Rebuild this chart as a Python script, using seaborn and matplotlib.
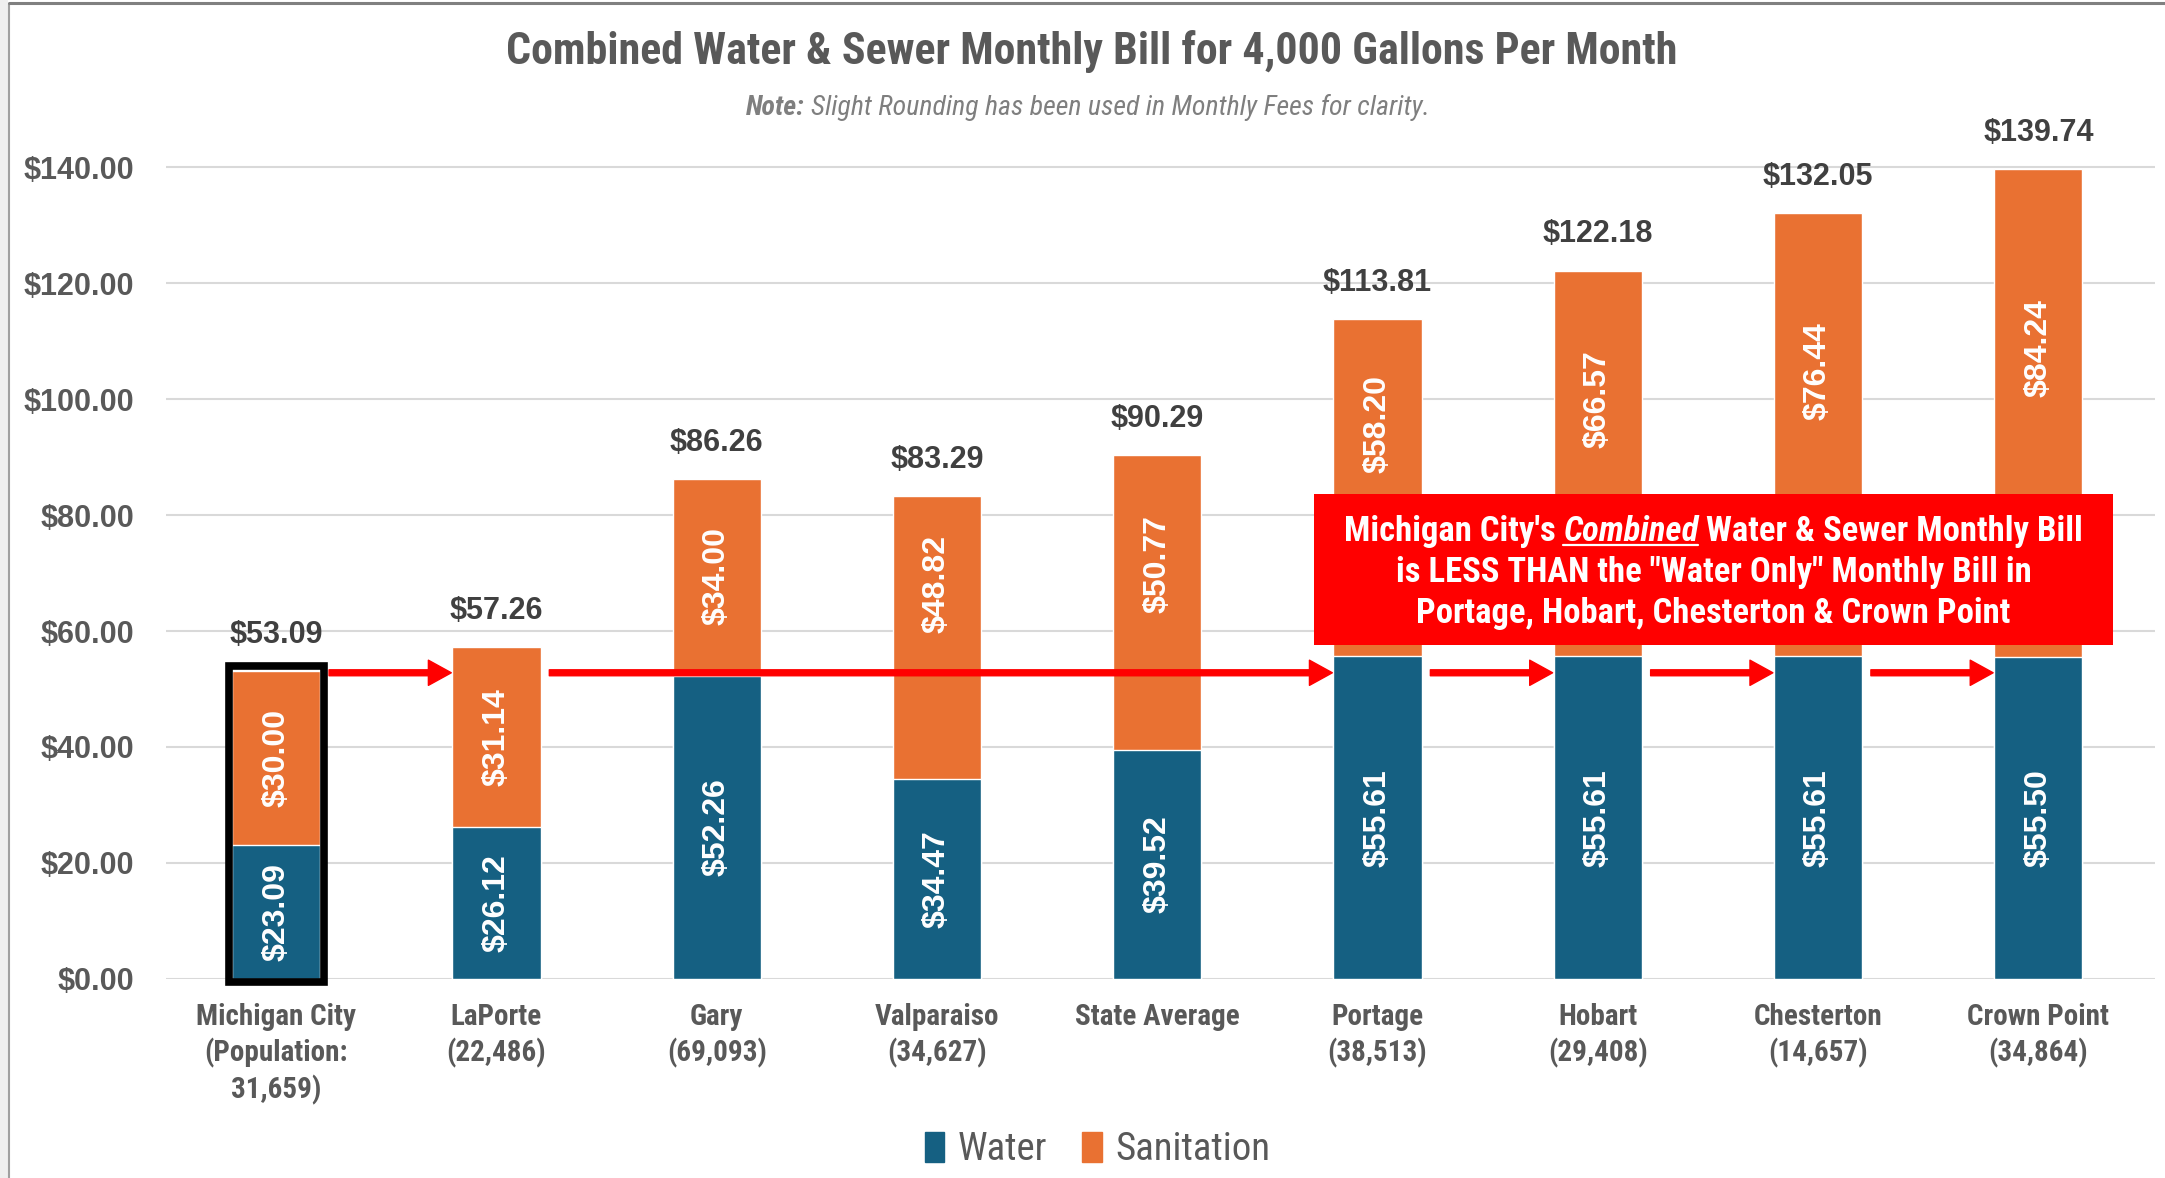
import pandas as pd
import matplotlib
matplotlib.use("Agg")
import matplotlib.pyplot as plt
import seaborn as sns
from matplotlib import font_manager
from matplotlib.patches import Rectangle, Patch
from matplotlib.lines import Line2D
from matplotlib.transforms import IdentityTransform

# data
cities = ["Michigan City", "LaPorte", "Gary", "Valparaiso", "State Average",
          "Portage", "Hobart", "Chesterton", "Crown Point"]
populations = ["(Population:\n31,659)", "(22,486)", "(69,093)", "(34,627)", "",
               "(38,513)", "(29,408)", "(14,657)", "(34,864)"]
water = [23.09, 26.12, 52.26, 34.47, 39.52, 55.61, 55.61, 55.61, 55.50]
sanitation = [30.00, 31.14, 34.00, 48.82, 50.77, 58.20, 66.57, 76.44, 84.24]
yticks = [0, 20, 40, 60, 80, 100, 120, 140]

df = pd.DataFrame({"city": cities, "Water": water, "Sanitation": sanitation})
df["Total"] = df["Water"] + df["Sanitation"]

BLUE = "#156082"
ORANGE = "#E97132"
GREY = "#595959"

sns.set_theme(style="white")
names = {f.name for f in font_manager.fontManager.ttflist}
narrow = next((n for n in ["Liberation Sans Narrow", "Roboto Condensed", "Roboto"] if n in names), "DejaVu Sans")
plt.rcParams["font.family"] = ["Liberation Sans", "DejaVu Sans"]

W, H = 2165, 1178
fig = plt.figure(figsize=(W / 100, H / 100), dpi=100)
ax = fig.add_axes([0.0767, 0.169, 0.9187, 0.694])

# stacked bars: total in orange, water drawn over it
sns.barplot(data=df, x="city", y="Total", color=ORANGE, width=0.4, ax=ax, saturation=1)
sns.barplot(data=df, x="city", y="Water", color=BLUE, width=0.4, ax=ax, saturation=1)

ax.set_ylim(0, 141)
ax.set_xlim(-0.5, 8.53)
ax.set_axisbelow(True)
ax.set_yticks(yticks)
ax.set_yticklabels([f"${v:,.2f}" for v in yticks], fontsize=22, fontweight="bold", color=GREY)
ax.yaxis.grid(True, color="#d9d9d9", lw=1.5)
ax.tick_params(axis="y", length=0, pad=23)
ax.set_xticks(range(len(cities)))
ax.set_xticklabels([c + ("\n" + p if p else "") for c, p in zip(cities, populations)],
                   fontsize=21, fontweight="bold", color=GREY, family=narrow, linespacing=1.3)
ax.tick_params(axis="x", length=0, pad=17)
ax.set_xlabel("")
ax.set_ylabel("")
sns.despine(ax=ax, left=True, bottom=True)

# highlight box round Michigan City
ax.add_patch(Rectangle((-0.215, -0.6), 0.43, df["Total"][0] + 1.4, fill=False,
                       edgecolor="black", lw=5.5, zorder=4, clip_on=False))

# arrows
arrow_y = 52.8
hops = [(0, 1), (1, 5), (5, 6), (6, 7), (7, 8)]
for a, b in hops:
    ax.annotate("", xy=(b - 0.205, arrow_y), xytext=(a + 0.24, arrow_y),
                arrowprops=dict(arrowstyle="simple,head_length=0.5,head_width=0.55,tail_width=0.13",
                                color="#FF0000", mutation_scale=33, shrinkA=0, shrinkB=0),
                zorder=6, annotation_clip=False)

# call-out box
box_x0, box_x1, box_y0, box_y1 = 4.71, 8.34, 57.6, 83.7
ax.add_patch(Rectangle((box_x0, box_y0), box_x1 - box_x0, box_y1 - box_y0,
                       facecolor="#FF0000", edgecolor="none", zorder=7))

# value labels
for i, row in df.iterrows():
    ax.annotate(f"${row.Total:.2f}", (i, row.Total), xytext=(0, 26), textcoords="offset points",
                ha="center", va="center", fontsize=22, fontweight="bold", color="#404040")
    ax.text(i, row.Water / 2, f"${row.Water:.2f}", rotation=90, ha="center", va="center",
            fontsize=23, fontweight="bold", color="white", zorder=5)
    floor = row.Water
    if 2 <= i <= 4:
        floor = max(floor, arrow_y)
    elif i >= 5:
        floor = box_y1 - 6
    ax.text(i, (floor + row.Total) / 2, f"${row.Sanitation:.2f}", rotation=90, ha="center",
            va="center", fontsize=23, fontweight="bold", color="white", zorder=5)

renderer = fig.canvas.get_renderer()


def runs_text(runs, cx, cy, size, color, family, target=None, zorder=10):
    """draw styled runs on one line centred at pixel (cx, cy from top)"""
    def build(sz):
        ts = []
        for s, kw in runs:
            ts.append(fig.text(0, 0, s, transform=IdentityTransform(), fontsize=sz, color=color,
                               family=family, ha="left", va="baseline", zorder=zorder, **kw))
        sp = fig.text(0, 0, "a a", fontsize=sz, family=family, **runs[0][1])
        nsp = fig.text(0, 0, "aa", fontsize=sz, family=family, **runs[0][1])
        gap = sp.get_window_extent(renderer).width - nsp.get_window_extent(renderer).width
        sp.remove()
        nsp.remove()
        ws = [t.get_window_extent(renderer).width for t in ts]
        return ts, ws, gap
    ts, ws, gap = build(size)
    total = sum(ws) + gap * (len(ws) - 1)
    if target:
        for t in ts:
            t.remove()
        size = size * target / total
        ts, ws, gap = build(size)
        total = sum(ws) + gap * (len(ws) - 1)
    x = cx - total / 2
    base = H - cy - 0.36 * size * 100 / 72
    spans = []
    for t, w in zip(ts, ws):
        t.set_position((x, base))
        spans.append((x, x + w))
        x += w + gap
    return spans, base, size


# title and note
runs_text([("Combined Water & Sewer Monthly Bill for 4,000 Gallons Per Month", dict(fontweight="bold"))],
          1092, 48, 26, GREY, narrow, target=1175)
runs_text([("Note:", dict(fontweight="bold", style="italic")),
           ("Slight Rounding has been used in Monthly Fees for clarity.", dict(style="italic"))],
          1088, 105, 15, "#7f7f7f", narrow, target=685)

# call-out text
bx0, by0 = ax.transData.transform((box_x0, box_y0))
bx1, by1 = ax.transData.transform((box_x1, box_y1))
bcx = (bx0 + bx1) / 2
bcy = H - (by0 + by1) / 2
spans, base, fs = runs_text([("Michigan City's", dict(fontweight="bold")),
                             ("Combined", dict(fontweight="bold", style="italic")),
                             ("Water & Sewer Monthly Bill", dict(fontweight="bold"))],
                            bcx, bcy - 41, 22, "white", narrow, target=739)
x0, x1 = spans[1]
fig.add_artist(Line2D([x0, x1], [base - 4, base - 4], transform=IdentityTransform(),
                      color="white", lw=1.6, zorder=10))
runs_text([('is LESS THAN the "Water Only" Monthly Bill in', dict(fontweight="bold"))],
          bcx, bcy, fs, "white", narrow)
runs_text([("Portage, Hobart, Chesterton & Crown Point", dict(fontweight="bold"))],
          bcx, bcy + 41, fs, "white", narrow)

# legend
fig.legend(handles=[Patch(color=BLUE, label="Water"), Patch(color=ORANGE, label="Sanitation")],
           loc="center", bbox_to_anchor=(0.507, 0.024), ncol=2, frameon=False,
           handlelength=0.5, handleheight=0.8, handletextpad=0.35, columnspacing=0.9,
           labelcolor=GREY, prop=dict(family=narrow, size=28))

# chart frame
fig.add_artist(Rectangle((0, 0), 8, H, transform=IdentityTransform(), facecolor="#efefef",
                         edgecolor="none", zorder=0))
fig.add_artist(Line2D([9, 9], [0, H - 4], transform=IdentityTransform(), color="#a0a0a0", lw=1.5))
fig.add_artist(Line2D([9, W], [H - 3, H - 3], transform=IdentityTransform(), color="#808080", lw=2.2))

fig.savefig("out.png", dpi=100)
